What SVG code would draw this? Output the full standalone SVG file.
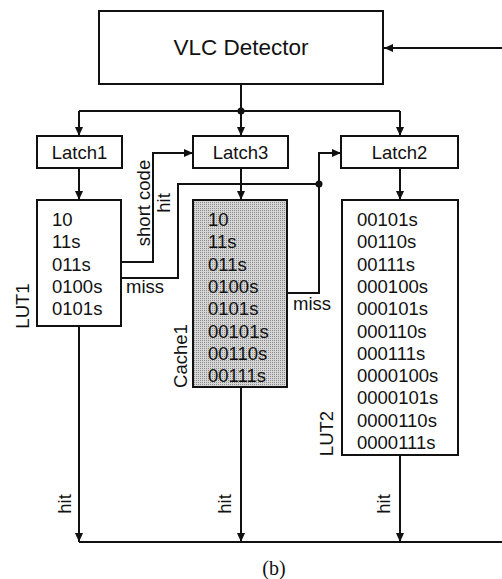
<svg xmlns="http://www.w3.org/2000/svg" width="502" height="579" viewBox="0 0 502 579">
<style>
.box{fill:#fff;stroke:#111;stroke-width:2}
.cache{fill:url(#dither);stroke:#111;stroke-width:2}
.t{font-family:"Liberation Sans",Arial,sans-serif;font-size:18.5px;fill:#111}
.big{font-size:22.5px}
.c{text-anchor:middle}
.w{fill:none;stroke:#111;stroke-width:2}
.a{marker-end:url(#ah)}
</style>
<defs>
<marker id="ah" markerUnits="userSpaceOnUse" markerWidth="10" markerHeight="10" refX="9" refY="4" orient="auto">
<path d="M0,0 L9,4 L0,8 Z" fill="#111"/>
</marker>
<pattern id="dither" width="2" height="2" patternUnits="userSpaceOnUse">
<rect width="2" height="2" fill="#d6d6d6"/>
<rect width="1" height="1" fill="#8a8a8a"/>
</pattern>
</defs>
<g id="connectors">
<path class="w a" d="M502,48 H384"/>
<path class="w" d="M241,84 V111"/>
<path class="w" d="M79,111 H400"/>
<path class="w a" d="M79,111 V136"/>
<path class="w a" d="M241,111 V136"/>
<path class="w a" d="M400,111 V136"/>
<circle cx="241" cy="111" r="3.5" fill="#111"/>
<path class="w a" d="M79,168 V200"/>
<path class="w a" d="M241,168 V200"/>
<path class="w a" d="M400,168 V200"/>
<path class="w a" d="M121,262 H153 V153 H193"/>
<path class="w" d="M121,278 H178 V184 H319"/>
<path class="w a" d="M319,184 V153 H341"/>
<path class="w" d="M319,184 V293 H287"/>
<circle cx="319" cy="184" r="3.5" fill="#111"/>
<path class="w a" d="M79,326 V542"/>
<path class="w a" d="M241,387 V542"/>
<path class="w a" d="M400,455 V542"/>
<path class="w" d="M79,542 H502"/>
<text class="t c" transform="translate(150,203) rotate(-90)">short code</text>
<text class="t c" transform="translate(170,203) rotate(-90)">hit</text>
<text class="t" x="126" y="293">miss</text>
<text class="t" x="293" y="310">miss</text>
<text class="t c" transform="translate(71,504) rotate(-90)">hit</text>
<text class="t c" transform="translate(231,504) rotate(-90)">hit</text>
<text class="t c" transform="translate(390,504) rotate(-90)">hit</text>
</g>
<g id="vlc">
<rect class="box" x="99" y="11" width="284" height="73"/>
<text class="t big c" x="241" y="55">VLC Detector</text>
</g>
<g id="latch1">
<rect class="box" x="37" y="136" width="85" height="32"/>
<text class="t c" x="79.5" y="159">Latch1</text>
</g>
<g id="latch3">
<rect class="box" x="193" y="136" width="95" height="32"/>
<text class="t c" x="240.5" y="159">Latch3</text>
</g>
<g id="latch2">
<rect class="box" x="341" y="136" width="117" height="32"/>
<text class="t c" x="399.5" y="159">Latch2</text>
</g>
<g id="lut1">
<rect class="box" x="37" y="200" width="84" height="126"/>
<text class="t" x="52" y="226">10</text>
<text class="t" x="52" y="248.3">11s</text>
<text class="t" x="52" y="270.6">011s</text>
<text class="t" x="52" y="292.9">0100s</text>
<text class="t" x="52" y="315.2">0101s</text>
<text class="t c" transform="translate(28.5,306) rotate(-90)">LUT1</text>
</g>
<g id="cache1">
<rect class="cache" x="193" y="200" width="94" height="187"/>
<text class="t" x="208" y="226">10</text>
<text class="t" x="208" y="248.3">11s</text>
<text class="t" x="208" y="270.6">011s</text>
<text class="t" x="208" y="292.9">0100s</text>
<text class="t" x="208" y="315.2">0101s</text>
<text class="t" x="208" y="337.5">00101s</text>
<text class="t" x="208" y="359.8">00110s</text>
<text class="t" x="208" y="382.1">00111s</text>
<text class="t c" transform="translate(187,356) rotate(-90)">Cache1</text>
</g>
<g id="lut2">
<rect class="box" x="342" y="200" width="116" height="255"/>
<text class="t" x="357" y="226">00101s</text>
<text class="t" x="357" y="248.3">00110s</text>
<text class="t" x="357" y="270.6">00111s</text>
<text class="t" x="357" y="292.9">000100s</text>
<text class="t" x="357" y="315.2">000101s</text>
<text class="t" x="357" y="337.5">000110s</text>
<text class="t" x="357" y="359.8">000111s</text>
<text class="t" x="357" y="382.1">0000100s</text>
<text class="t" x="357" y="404.4">0000101s</text>
<text class="t" x="357" y="426.7">0000110s</text>
<text class="t" x="357" y="449">0000111s</text>
<text class="t c" transform="translate(333,433.5) rotate(-90)">LUT2</text>
</g>
<text x="274" y="575" style="font-family:'Liberation Serif','Times New Roman',serif;font-size:20px;fill:#111;text-anchor:middle">(b)</text>
</svg>
